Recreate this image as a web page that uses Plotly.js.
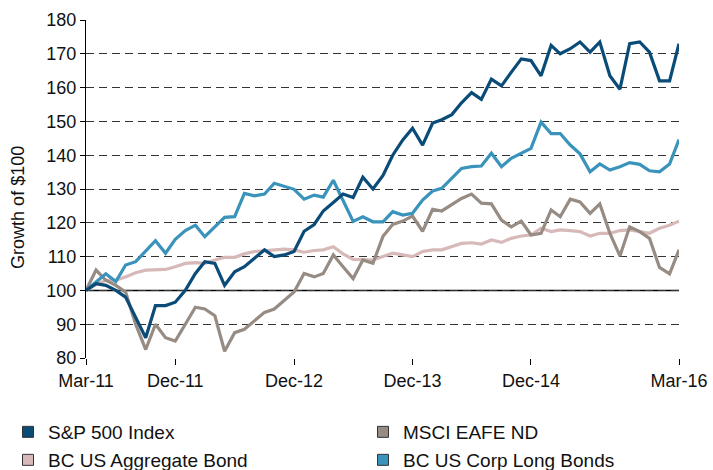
<!DOCTYPE html>
<html>
<head>
<meta charset="utf-8">
<script src="https://cdn.plot.ly/plotly-3.0.1.min.js"></script>
<style>html,body{margin:0;padding:0;background:#fff;}#chart{width:713px;height:470px;}</style>
</head>
<body>
<div id="chart"></div>
<script>
// Monthly observations, Mar-2011 .. Mar-2016 (61 months)
const startYear = 2011, startMonth = 3, nMonths = 61;

const sp500 = [100,102,101.5,100,98,92,86,95.5,95.5,96.5,100,105,108.5,108,101.5,105.5,107,109.5,112,110,110.5,111.5,117.5,119.5,123.5,126,128.5,127.5,133.5,130,134,140,144.5,148,143,149.5,150.5,152,155.5,158.5,156.5,162.5,160.5,164.5,168.5,168,163.5,172.5,170,171.5,173.5,170.5,173.5,163.5,159.5,173,173.5,170.5,162,162,173];
const eafe = [100,106,103,101.5,99.5,90,82.5,90,86,85,90,95,94.5,92.5,82,87.5,88.5,91,93.5,94.5,97,99.5,105,104,105,110.5,107,103.5,109,108,116,119.5,120.5,122,117.5,124,123.5,125.3,127.2,128.5,125.8,125.6,120.8,118.8,120.5,116.4,116.9,123.8,121.8,127,126.2,122.8,125.6,116.9,110.2,118.8,117.4,115.4,106.8,104.9,112];
const aggBond = [100,101.7,103,103,104,105.2,106,106.2,106.2,107,108,108.2,108,109,109.8,109.8,110.8,111.5,111.8,112,112.2,112,111.3,111.8,112,112.9,110.8,109.2,109.2,109,110,111,110.5,110,111.5,112,112,112.9,113.9,114.1,113.7,114.9,114.2,115.4,116.1,116.4,118.4,117.4,117.9,117.7,117.4,116.1,116.9,116.9,117.7,117.9,117.4,116.9,118.4,119.3,120.5];
const corpLong = [100,102.6,104.9,102.6,107.5,108.5,111.5,114.7,111,115.1,117.7,119.3,115.9,118.8,121.6,121.8,128.7,128,128.5,131.7,130.7,129.9,127,128.2,127.6,132.6,126.6,120.4,121.8,120.3,120.3,123.3,122.3,122.8,126.7,129.4,130.2,133.2,136.1,136.6,136.8,140.6,136.6,139.1,140.6,142,149.8,146.4,146.4,143,140.4,135.1,137.4,135.6,136.6,137.8,137.3,135.4,135.1,137.4,144.6];

const seriesNames = ["S&P 500 Index","MSCI EAFE ND","BC US Aggregate Bond","BC US Corp Long Bonds"];
const seriesColors = ["#0b4b78","#978c83","#d7b9b9","#3a93ba"];
const yTitle = "Growth of $100";

const tickDates = ["2011-03-01","2011-12-01","2012-12-01","2013-12-01","2014-12-01","2016-03-01"];
const tickLabels = ["Mar-11","Dec-11","Dec-12","Dec-13","Dec-14","Mar-16"];
const yTicks = [80,90,100,110,120,130,140,150,160,170,180];

const months = [];
for (let i = 0; i < nMonths; i++) {
  const m0 = startMonth - 1 + i;
  const y = startYear + Math.floor(m0 / 12);
  const m = (m0 % 12) + 1;
  months.push(y + "-" + String(m).padStart(2, "0") + "-01");
}

const values = [sp500, eafe, aggBond, corpLong];
const drawOrder = [2, 1, 3, 0];
const legendIds = ["legend","legend2","legend3","legend4"];
const traces = [];
drawOrder.forEach(k => {
  traces.push({
    x: months, y: values[k], type: "scatter", mode: "lines",
    name: seriesNames[k], showlegend: false,
    line: {color: seriesColors[k], width: 3.2}
  });
});
seriesNames.forEach((nm, k) => {
  traces.push({
    x: [null], y: [null], type: "scatter", mode: "markers", name: nm,
    legend: legendIds[k],
    marker: {symbol: "square", size: 11, color: seriesColors[k], line: {color: "#333", width: 1}}
  });
});

const fam = "Liberation Sans, Arial, sans-serif";
function legendAt(xpx, ypx) {
  return {
    orientation: "v", xref: "container", yref: "container",
    x: xpx / 713, xanchor: "left", y: 1 - ypx / 470, yanchor: "middle",
    font: {family: fam, size: 19, color: "#111"},
    itemclick: false, bgcolor: "rgba(0,0,0,0)"
  };
}

const layout = {
  width: 713, height: 470,
  margin: {l: 86, r: 34, t: 20, b: 112, autoexpand: false},
  paper_bgcolor: "#fff", plot_bgcolor: "#fff",
  font: {family: fam, size: 18, color: "#111"},
  showlegend: true,
  legend: legendAt(8, 432),
  legend2: legendAt(363, 432),
  legend3: legendAt(8, 460),
  legend4: legendAt(363, 460),
  xaxis: {
    type: "date", automargin: false,
    range: [months[0], months[nMonths - 1]],
    tickvals: tickDates, ticktext: tickLabels, tickangle: 0,
    showgrid: false, zeroline: false, showline: false,
    ticks: "outside", ticklen: 6, tickcolor: "#000", tickwidth: 1,
    tickfont: {family: fam, size: 18, color: "#111"}
  },
  yaxis: {
    range: [80, 180], automargin: false,
    tickvals: yTicks,
    showgrid: true, gridcolor: "#333", gridwidth: 1, griddash: "8px,5px",
    zeroline: false, showline: true, linecolor: "#000", linewidth: 1,
    ticks: "outside", ticklen: 5, tickcolor: "#000",
    tickfont: {family: fam, size: 18, color: "#111"}
  },
  annotations: [{
    text: yTitle, xref: "paper", yref: "paper",
    x: -0.1147, y: 0.447, xanchor: "center", yanchor: "middle",
    textangle: -90, showarrow: false,
    font: {family: fam, size: 18, color: "#111"}
  }],
  shapes: [{
    type: "line", xref: "paper", x0: 0, x1: 1, yref: "y", y0: 100, y1: 100,
    line: {color: "#000", width: 1.5}, layer: "below"
  }]
};

Plotly.newPlot("chart", traces, layout, {displayModeBar: false, staticPlot: true});
</script>
</body>
</html>
